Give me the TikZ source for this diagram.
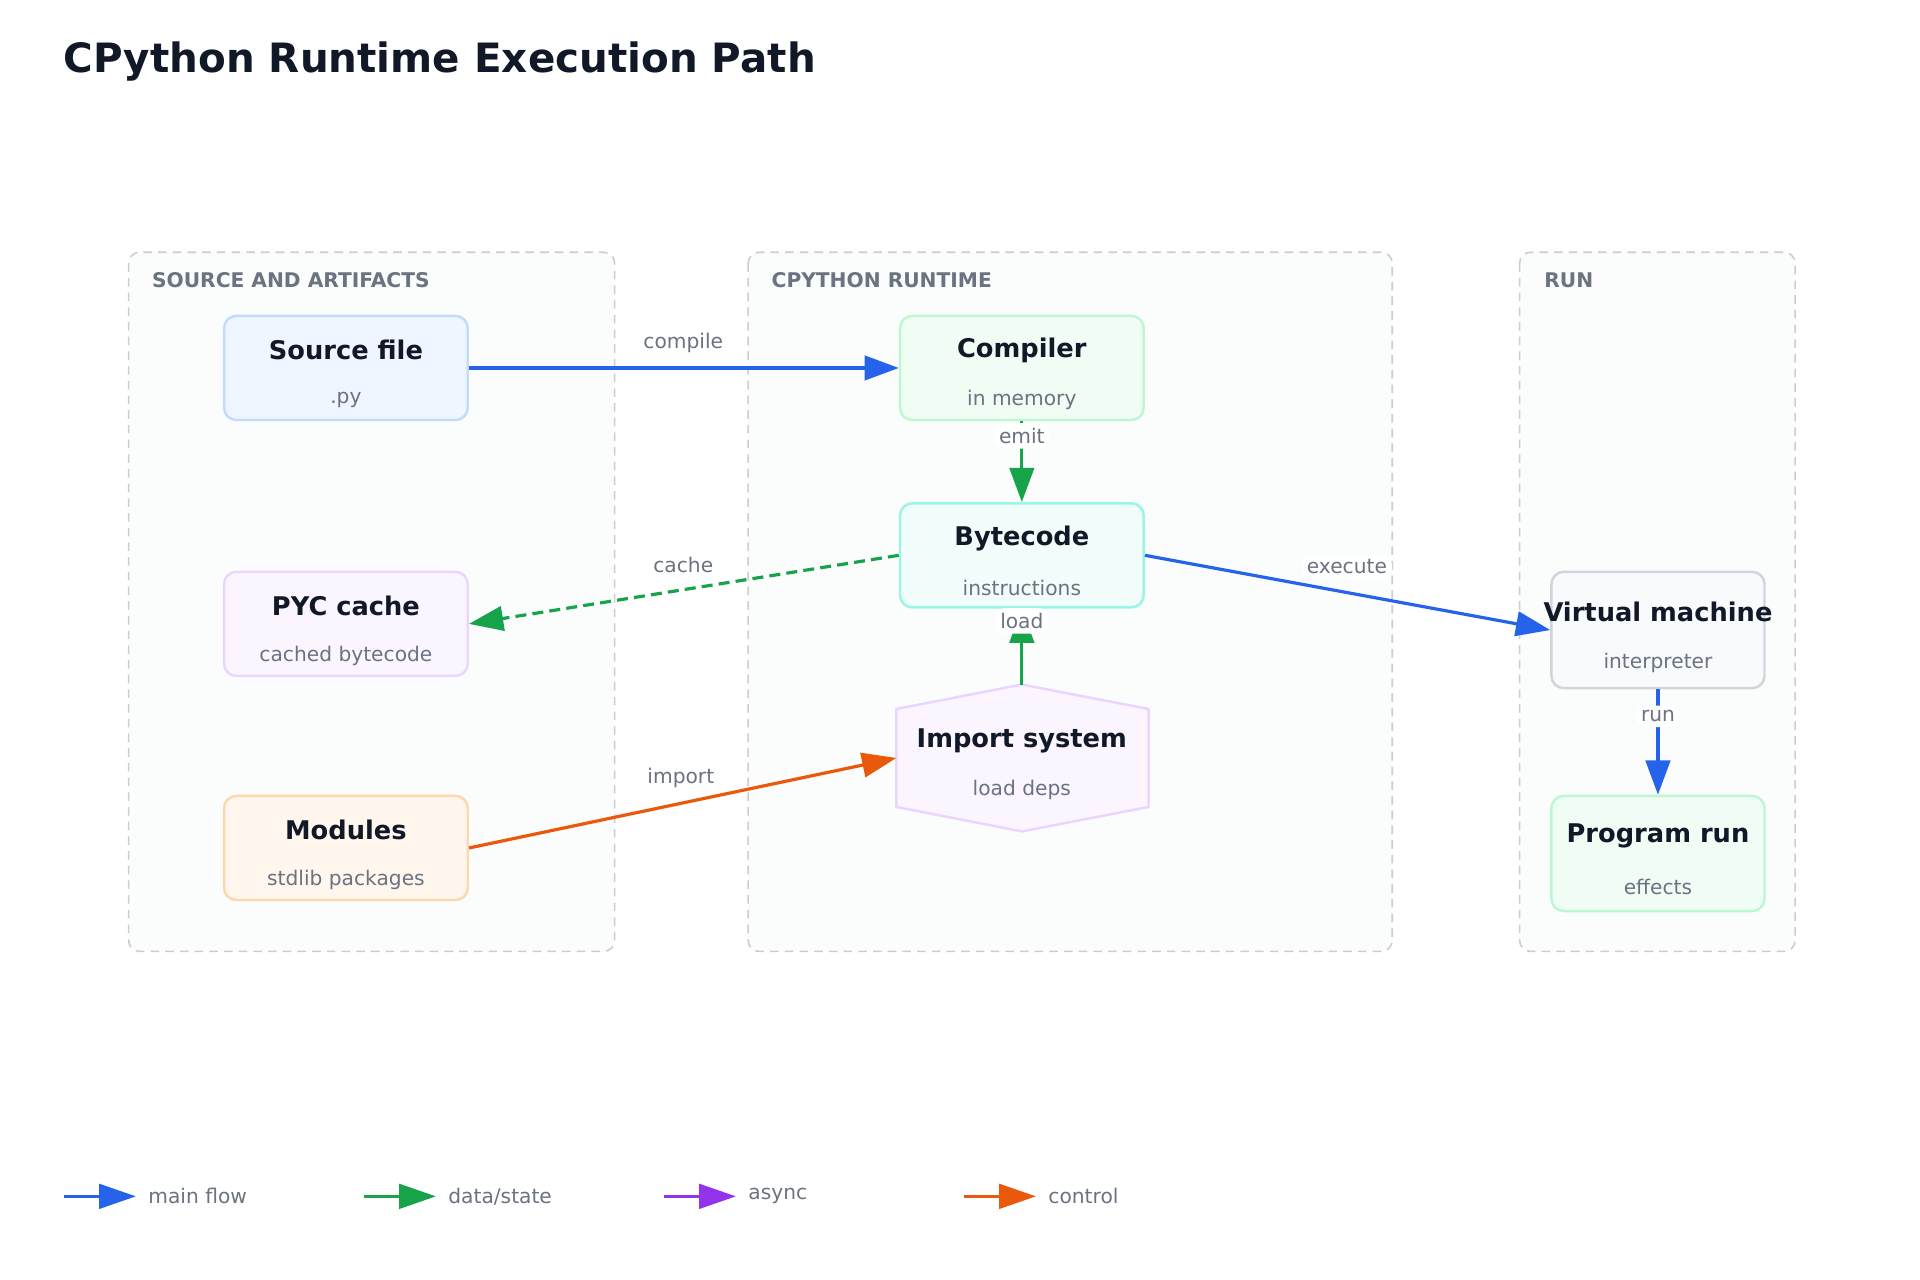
\documentclass[tikz,border=0pt]{standalone}
\usepackage{fontspec}
\setmainfont{DejaVu Sans}
\usetikzlibrary{arrows.meta}
\definecolor{cblue}{HTML}{2563EB}
\definecolor{cgreen}{HTML}{16A34A}
\definecolor{corange}{HTML}{EA580C}
\definecolor{cpurple}{HTML}{9333EA}
\definecolor{ink}{HTML}{111827}
\definecolor{muted}{HTML}{6B7280}
\definecolor{gfill}{HTML}{FBFCFC}
\definecolor{gline}{HTML}{CBCDD1}
\definecolor{bF}{HTML}{EFF6FF}\definecolor{bD}{HTML}{BFDBFE}
\definecolor{gF}{HTML}{F0FDF4}\definecolor{gD}{HTML}{BBF7D0}
\definecolor{tF}{HTML}{F0FDFA}\definecolor{tD}{HTML}{99F6E4}
\definecolor{pF}{HTML}{FAF5FF}\definecolor{pD}{HTML}{E9D5FF}
\definecolor{oF}{HTML}{FFF7ED}\definecolor{oD}{HTML}{FED7AA}
\definecolor{sF}{HTML}{F8FAFC}\definecolor{sD}{HTML}{D1D5DB}
\begin{document}
\begin{tikzpicture}[x=1pt,y=-1pt,
  grp/.style={draw=gline,dash pattern=on 7pt off 5pt,line width=1.3pt,rounded corners=9pt,fill=gfill},
  glabel/.style={anchor=west,font=\fontsize{16.5}{18}\selectfont\bfseries,text=muted},
  box/.style={line width=2pt,rounded corners=10pt,minimum width=199pt,minimum height=85pt},
  ttl/.style={font=\fontsize{21}{24}\selectfont\bfseries,text=ink},
  sub/.style={font=\fontsize{16.5}{18}\selectfont,text=muted},
  edge/.style={line width=2.6pt,-{Triangle[length=28pt,width=20pt]}},
  elab/.style={font=\fontsize{16.5}{18}\selectfont,text=muted,fill=white,rounded corners=8pt,inner sep=4pt},
  leg/.style={line width=2.6pt,-{Triangle[length=30pt,width=20pt]}},
  ltext/.style={anchor=west,font=\fontsize{16.5}{18}\selectfont,text=muted}]
\useasboundingbox[fill=white] (0,0) rectangle (1568,1045);
\node[anchor=west,font=\fontsize{33}{38}\selectfont\bfseries,text=ink,inner sep=0pt] (title) at (52,50) {CPython Runtime Execution Path};
% groups
\draw[grp] (105,206) rectangle (502,777);
\draw[grp] (611,206) rectangle (1137,777);
\draw[grp] (1241,206) rectangle (1466,777);
\node[glabel,inner sep=0pt] (g1) at (124,229) {SOURCE AND ARTIFACTS};
\node[glabel,inner sep=0pt] (g2) at (630,229) {CPYTHON RUNTIME};
\node[glabel,inner sep=0pt] (g3) at (1261,229) {RUN};
% nodes
\node[box,draw=bD,fill=bF] (src) at (282.5,300.5) {};
\node[ttl] at (282.5,286) {Source file}; \node[sub] at (282.5,327) {.py};
\node[box,draw=gD,fill=gF] (comp) at (834.5,300.5) {};
\node[ttl] at (834.5,286) {Compiler}; \node[sub] at (834.5,327) {in memory};
\node[box,draw=tD,fill=tF] (byte) at (834.5,453.5) {};
\node[ttl] at (834.5,440) {Bytecode}; \node[sub] at (834.5,480) {instructions};
\node[box,draw=pD,fill=pF] (pyc) at (282.5,509.5) {};
\node[ttl] at (282.5,495) {PYC cache}; \node[sub] at (282.5,536) {cached bytecode};
\node[box,draw=oD,fill=oF] (mod) at (282.5,692.5) {};
\node[ttl] at (282.5,678) {Modules}; \node[sub] at (282.5,719) {stdlib packages};
\node[box,draw=sD,fill=sF,minimum width=174pt,minimum height=95pt] (vm) at (1354,514.5) {};
\node[ttl] at (1354,500) {Virtual machine}; \node[sub] at (1354,541) {interpreter};
\node[box,draw=gD,fill=gF,minimum width=174pt,minimum height=94pt] (prog) at (1354,697) {};
\node[ttl] at (1354,683) {Program run}; \node[sub] at (1354,724) {effects};
\coordinate (impN) at (834.5,559);
\coordinate (impW) at (732,619);
\draw[draw=pD,fill=pF,line width=2pt,line join=round] (732,579) -- (impN) -- (938,579) -- (938,659) -- (834.5,679) -- (732,659) -- cycle;
\node[ttl] (imp) at (834.5,605) {Import system}; \node[sub] at (834.5,645) {load deps};
% edges
\draw[edge,cblue] (src.east) -- (comp.west);
\node[elab] at (558,280) {compile};
\draw[edge,cgreen] (comp.south) -- (byte.north);
\node[elab] at (834.5,356) {emit};
\draw[edge,cgreen,dash pattern=on 9pt off 5pt] (byte.west) -- (pyc.east);
\node[elab] at (558,461) {cache};
\draw[edge,cblue] (byte.east) -- (vm.west);
\node[elab] at (1100,463) {execute};
\draw[edge,cgreen] (impN) -- (byte.south);
\node[elab] at (834.5,507) {load};
\draw[edge,corange] (mod.east) -- (impW);
\node[elab] at (556,635) {import};
\draw[edge,cblue] (vm.south) -- (prog.north);
\node[elab] at (1354,585) {run};
% legend
\coordinate (l1a) at (52,977); \coordinate (l1b) at (111,977);
\coordinate (l2a) at (297,977); \coordinate (l2b) at (356,977);
\coordinate (l3a) at (542,977); \coordinate (l3b) at (601,977);
\coordinate (l4a) at (787,977); \coordinate (l4b) at (846,977);
\draw[leg,cblue] (l1a) -- (l1b); \node[ltext,inner sep=0pt] at (121,977) {main flow};
\draw[leg,cgreen] (l2a) -- (l2b); \node[ltext,inner sep=0pt] at (366,977) {data/state};
\draw[leg,cpurple] (l3a) -- (l3b); \node[ltext,inner sep=0pt] at (611,977) {async};
\draw[leg,corange] (l4a) -- (l4b); \node[ltext,inner sep=0pt] at (856,977) {control};
\end{tikzpicture}
\end{document}
